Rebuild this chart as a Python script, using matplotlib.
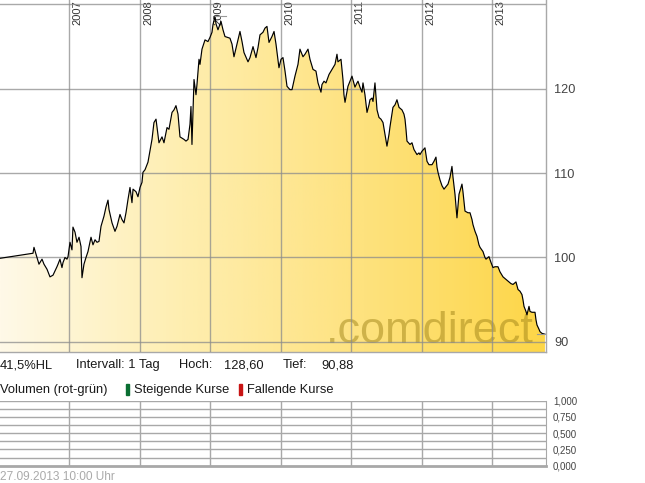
import numpy as np
import matplotlib
matplotlib.use("Agg")
from matplotlib import pyplot as plt
from matplotlib.patches import Polygon
from matplotlib.colors import LinearSegmentedColormap

plt.rcParams['font.family'] = ['Liberation Sans', 'DejaVu Sans']

# price series, x as decimal year
years = [2006.017, 2006.485, 2006.499, 2006.542, 2006.570, 2006.613, 2006.641, 2006.684, 2006.726, 2006.769,
         2006.825, 2006.840, 2006.868, 2006.896, 2006.911, 2006.939, 2006.967, 2006.982, 2007.010, 2007.038,
         2007.052, 2007.081, 2007.109, 2007.138, 2007.166, 2007.180, 2007.208, 2007.237, 2007.265, 2007.308,
         2007.336, 2007.365, 2007.393, 2007.421, 2007.450, 2007.478, 2007.492, 2007.521, 2007.549, 2007.563,
         2007.606, 2007.648, 2007.677, 2007.719, 2007.747, 2007.776, 2007.804, 2007.833, 2007.861, 2007.889,
         2007.904, 2007.946, 2007.974, 2008.003, 2008.031, 2008.045, 2008.074, 2008.116, 2008.173, 2008.201,
         2008.230, 2008.272, 2008.315, 2008.343, 2008.386, 2008.414, 2008.457, 2008.485, 2008.513, 2008.542,
         2008.570, 2008.627, 2008.655, 2008.684, 2008.712, 2008.726, 2008.740, 2008.769, 2008.797, 2008.811,
         2008.840, 2008.854, 2008.882, 2008.925, 2008.967, 2008.996, 2009.024, 2009.038, 2009.067, 2009.081,
         2009.109, 2009.152, 2009.180, 2009.208, 2009.279, 2009.308, 2009.336, 2009.379, 2009.421, 2009.450,
         2009.478, 2009.535, 2009.563, 2009.606, 2009.634, 2009.648, 2009.677, 2009.705, 2009.747, 2009.776,
         2009.804, 2009.833, 2009.875, 2009.904, 2009.932, 2009.974, 2010.003, 2010.031, 2010.060, 2010.088,
         2010.130, 2010.159, 2010.201, 2010.244, 2010.272, 2010.315, 2010.343, 2010.386, 2010.414, 2010.457,
         2010.499, 2010.528, 2010.570, 2010.584, 2010.613, 2010.641, 2010.684, 2010.726, 2010.769, 2010.797,
         2010.811, 2010.854, 2010.882, 2010.896, 2010.911, 2010.953, 2010.982, 2011.010, 2011.052, 2011.081,
         2011.095, 2011.123, 2011.152, 2011.166, 2011.194, 2011.223, 2011.251, 2011.265, 2011.294, 2011.308,
         2011.336, 2011.365, 2011.393, 2011.421, 2011.450, 2011.478, 2011.506, 2011.535, 2011.549, 2011.577,
         2011.591, 2011.620, 2011.648, 2011.677, 2011.719, 2011.747, 2011.762, 2011.776, 2011.790, 2011.833,
         2011.861, 2011.889, 2011.932, 2011.960, 2011.974, 2012.003, 2012.045, 2012.074, 2012.102, 2012.145,
         2012.173, 2012.201, 2012.216, 2012.230, 2012.258, 2012.287, 2012.315, 2012.343, 2012.372, 2012.400,
         2012.428, 2012.443, 2012.471, 2012.499, 2012.528, 2012.570, 2012.584, 2012.613, 2012.655, 2012.684,
         2012.712, 2012.726, 2012.755, 2012.783, 2012.811, 2012.826, 2012.868, 2012.896, 2012.911, 2012.939,
         2012.953, 2012.982, 2013.010, 2013.038, 2013.081, 2013.109, 2013.152, 2013.194, 2013.223, 2013.265,
         2013.294, 2013.336, 2013.365, 2013.393, 2013.421, 2013.435, 2013.450, 2013.478, 2013.492, 2013.521,
         2013.535, 2013.563, 2013.606, 2013.620, 2013.634, 2013.662, 2013.677, 2013.705, 2013.747]
prices = [99.9, 100.5, 101.2, 100.0, 99.2, 99.8, 99.2, 98.6, 97.7, 97.9,
          98.9, 99.2, 99.8, 98.8, 99.4, 100.0, 99.8, 100.1, 101.8, 100.9,
          103.6, 103.0, 101.8, 102.4, 101.3, 97.6, 99.2, 100.0, 100.7, 102.4,
          101.5, 102.1, 101.8, 101.9, 103.7, 104.5, 104.9, 106.0, 106.8, 105.7,
          104.1, 103.1, 103.7, 105.1, 104.5, 104.1, 105.3, 106.9, 108.3, 106.5,
          108.1, 107.8, 107.2, 108.3, 108.9, 110.1, 110.4, 111.3, 114.0, 116.0,
          116.4, 113.6, 114.3, 113.6, 115.4, 115.2, 117.2, 117.5, 118.0, 117.0,
          114.3, 114.0, 113.8, 114.0, 115.8, 117.9, 113.4, 121.1, 119.3, 120.5,
          123.5, 122.9, 124.7, 125.8, 125.6, 126.1, 126.7, 127.6, 128.6, 127.7,
          127.0, 128.0, 127.0, 126.2, 126.0, 125.3, 123.8, 125.3, 126.8, 125.6,
          124.3, 123.2, 123.7, 125.0, 124.1, 123.7, 124.9, 126.4, 126.7, 127.2,
          127.4, 125.5, 126.2, 126.8, 125.3, 122.5, 123.5, 123.7, 122.1, 120.3,
          119.9, 119.9, 121.5, 122.9, 124.7, 123.8, 124.1, 124.7, 123.5, 122.3,
          122.1, 120.7, 119.6, 120.5, 120.9, 120.7, 121.7, 122.3, 122.9, 124.1,
          123.2, 123.5, 121.1, 119.3, 118.4, 120.3, 120.9, 121.5, 120.2, 120.7,
          120.9, 120.2, 119.6, 120.7, 119.3, 117.2, 118.1, 118.7, 118.9, 118.5,
          120.7, 117.5, 116.6, 116.4, 116.0, 114.6, 113.2, 114.6, 115.5, 117.0,
          117.8, 118.1, 118.7, 117.8, 117.5, 117.0, 116.4, 115.2, 113.8, 113.4,
          113.6, 112.8, 112.2, 112.4, 112.2, 112.6, 113.0, 111.4, 111.0, 111.0,
          111.4, 111.9, 110.7, 110.1, 109.2, 108.5, 108.1, 108.4, 108.7, 109.5,
          110.8, 109.5, 107.5, 104.7, 107.5, 108.7, 107.8, 105.5, 105.3, 105.3,
          104.5, 103.9, 103.1, 102.5, 101.5, 101.2, 100.7, 100.0, 99.8, 100.0,
          100.1, 99.4, 98.8, 98.9, 98.9, 98.3, 97.7, 97.4, 97.2, 96.9,
          96.8, 97.1, 96.2, 96.0, 95.6, 95.0, 94.2, 93.6, 93.2, 94.2,
          93.6, 93.5, 93.5, 92.6, 92.0, 91.5, 91.2, 91.0, 90.9]

year_lines = [2007, 2008, 2009, 2010, 2011, 2012, 2013]
price_ticks = [90, 100, 110, 120, 130]
price_labels = ["90", "100", "110", "120", ""]
vol_ticks = [0.0, 0.25, 0.5, 0.75, 1.0]
vol_labels = ["0,000", "0,250", "0,500", "0,750", "1,000"]
high_val = 128.6
low_val = 90.88

x0, x1 = 2006.017, 2013.762
y0, y1 = 88.79, 130.53

grid_c = '#8c8c8c'

fig = plt.figure(figsize=(6.45, 4.83), dpi=100)
ax = fig.add_axes([0, 1 - 352 / 483, 546 / 645, 352 / 483])
ax.set_xlim(x0, x1)
ax.set_ylim(y0, y1)

# gradient fill under the line
cmap = LinearSegmentedColormap.from_list('gold', ['#fff9e8', '#feeeb0', '#fee27e', '#fdd647'])
grad = np.linspace(0, 1, 256).reshape(1, -1)
im = ax.imshow(grad, cmap=cmap, extent=[x0, x1, y0, y1], aspect='auto', zorder=1)
verts = np.column_stack([[years[0]] + years + [years[-1]], [y0] + prices + [y0]])
poly = Polygon(verts, closed=True, facecolor='none', edgecolor='none')
ax.add_patch(poly)
im.set_clip_path(poly)

# watermark
ax.text(2010.64, 89.8, '.comdirect', fontsize=32.5, color='#a08418', alpha=0.5,
        ha='left', va='baseline', zorder=2)

for y in year_lines:
    ax.axvline(y, color=grid_c, lw=1, alpha=0.75, zorder=3)
    ax.annotate(str(y), xy=(y, 1), xycoords=('data', 'axes fraction'), xytext=(2.5, 0),
                textcoords='offset points', rotation=90, ha='left', va='top',
                fontsize=8, color='#333333')
for p in price_ticks:
    ax.axhline(p, color=grid_c, lw=1, alpha=0.75, zorder=3)

ax.plot(years, prices, color='black', lw=0.85, zorder=4)

# high / low markers
i_hi = int(np.argmax(prices))
ax.plot([years[i_hi], years[i_hi] + 0.15], [high_val, high_val], color='#999999', lw=0.8, zorder=4)
ax.plot([years[-1] - 0.11, x1], [low_val, low_val], color='#999999', lw=0.8, zorder=4)

ax.set_yticks(price_ticks)
ax.set_yticklabels(price_labels)
ax.yaxis.tick_right()
ax.tick_params(axis='y', length=0, pad=6, labelsize=9.2, labelcolor='#444444')
ax.set_xticks([])
for s in ['left', 'top']:
    ax.spines[s].set_visible(False)
for s in ['right', 'bottom']:
    ax.spines[s].set_color('#a8a8a8')
    ax.spines[s].set_linewidth(1)

# info rows
fs = 9.3
tc = '#1a1a1a'
fig.text(0 / 645, 1 - 365 / 483, '41,5%HL', fontsize=fs, color=tc, va='center')
fig.text(76 / 645, 1 - 365 / 483, 'Intervall: 1 Tag', fontsize=fs, color=tc, va='center')
fig.text(179 / 645, 1 - 365 / 483, 'Hoch:', fontsize=fs, color=tc, va='center')
fig.text(224 / 645, 1 - 365 / 483, '128,60', fontsize=fs, color=tc, va='center')
fig.text(283 / 645, 1 - 365 / 483, 'Tief:', fontsize=fs, color=tc, va='center')
fig.text(321 / 645, 1 - 365 / 483, '90,88', fontsize=fs, color=tc, va='center')

fig.text(0 / 645, 1 - 390 / 483, 'Volumen (rot-grün)', fontsize=fs, color=tc, va='center')
fig.patches.append(plt.Rectangle((126 / 645, 1 - 394.5 / 483), 3 / 645, 11 / 483,
                                 transform=fig.transFigure, color='#0a6e32', figure=fig))
fig.text(134 / 645, 1 - 390 / 483, 'Steigende Kurse', fontsize=fs, color=tc, va='center')
fig.patches.append(plt.Rectangle((239 / 645, 1 - 394.5 / 483), 3 / 645, 11 / 483,
                                 transform=fig.transFigure, color='#c81414', figure=fig))
fig.text(247 / 645, 1 - 390 / 483, 'Fallende Kurse', fontsize=fs, color=tc, va='center')

fig.text(0 / 645, 1 - 477 / 483, '27.09.2013 10:00 Uhr', fontsize=8.6, color='#aaaaaa', va='center')

# volume panel
vax = fig.add_axes([0, 1 - 465.7 / 483, 546 / 645, 65 / 483])
vax.set_xlim(x0, x1)
vax.set_ylim(0, 1)
for v in np.arange(0.125, 1.01, 0.125):
    vax.axhline(v, color='#a8a8a8', lw=1)
for y in year_lines:
    vax.axvline(y, color='#a8a8a8', lw=1)
vax.set_yticks(vol_ticks)
vax.set_yticklabels(vol_labels)
vax.yaxis.tick_right()
vax.tick_params(axis='y', length=0, pad=5, labelsize=7, labelcolor='#444444')
vax.set_xticks([])
vax.spines['left'].set_visible(False)
vax.spines['top'].set_visible(False)
vax.spines['right'].set_color('#a8a8a8')
vax.spines['bottom'].set_color('#a8a8a8')
vax.spines['bottom'].set_linewidth(2)

plt.savefig("out.png", dpi=100)
